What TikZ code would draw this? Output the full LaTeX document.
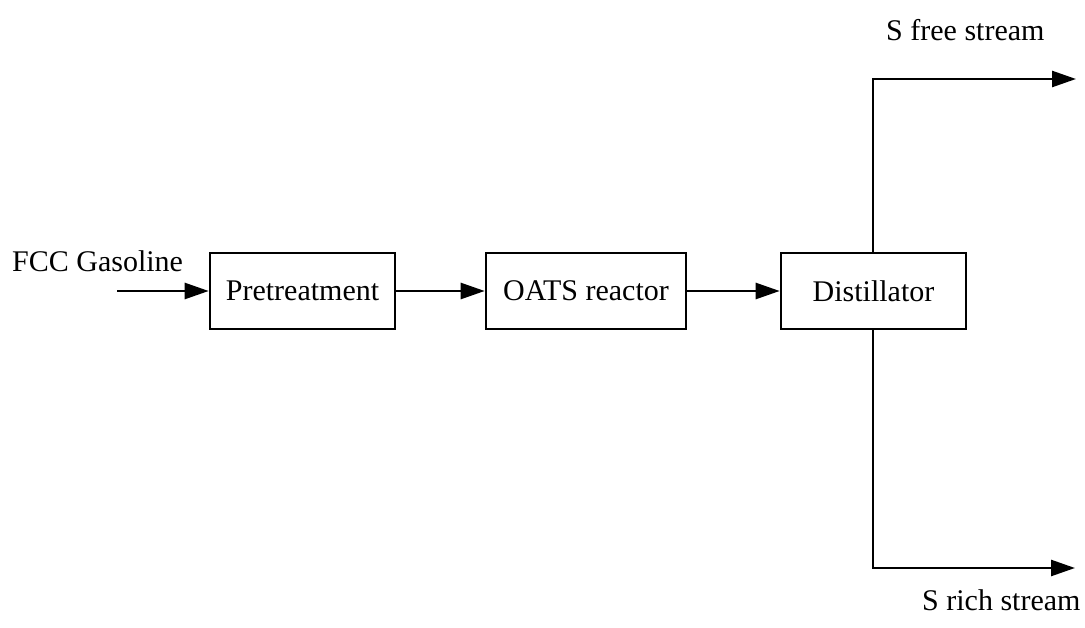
\documentclass[tikz,border=0pt]{standalone}
\usepackage{fontspec}
\setmainfont{Liberation Serif}
\usetikzlibrary{arrows.meta}
\begin{document}
\begin{tikzpicture}[x=1pt,y=-1pt,
  procbox/.style={draw, line width=2.6pt, minimum height=76pt, inner sep=0pt, font=\fontsize{30}{34}\selectfont},
  flow/.style={line width=2.6pt, -{Triangle[length=24pt,width=16pt]}},
  lbl/.style={inner sep=0pt, font=\fontsize{30}{34}\selectfont}]
\useasboundingbox (0,0) rectangle (1085,628);
\node[procbox, minimum width=185pt] (pre) at (302.5,291) {Pretreatment};
\node[procbox, minimum width=200pt] (oats) at (586,291) {OATS reactor};
\node[procbox, minimum width=185pt] (dist) at (873.5,291) {Distillator};
\coordinate (in) at (117,291);
\coordinate (tc) at (873,79);
\coordinate (te) at (1076,79);
\coordinate (bc) at (873,568);
\coordinate (be) at (1075,568);
\node[lbl, anchor=base west] (lin) at (12,272) {FCC Gasoline};
\node[lbl, anchor=base west] (lfree) at (886,41) {S free stream};
\node[lbl, anchor=base west] (lrich) at (922,610) {S rich stream};
\draw[flow] (in) -- (pre.west);
\draw[flow] (pre.east) -- (oats.west);
\draw[flow] (oats.east) -- (dist.west);
\draw[flow, line join=miter] (dist.north -| tc) -- (tc) -- (te);
\draw[flow, line join=miter] (dist.south -| bc) -- (bc) -- (be);
\end{tikzpicture}
\end{document}
